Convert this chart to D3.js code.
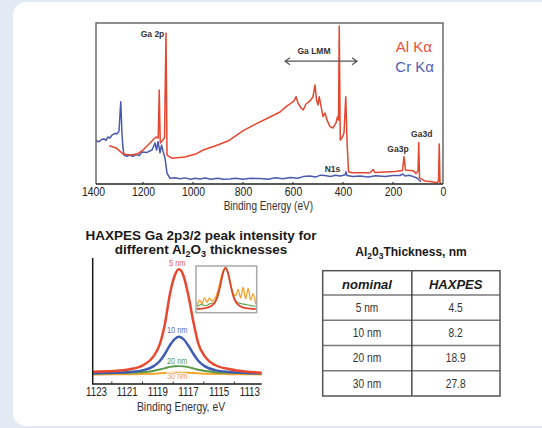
<!DOCTYPE html>
<html>
<head>
<meta charset="utf-8">
<script src="https://cdn.jsdelivr.net/npm/d3@7"></script>
<style>
  html, body { margin: 0; padding: 0; background: #e2eaf4; }
  svg { display: block; }
  text { font-family: "Liberation Sans", Arial, sans-serif; }
  .bold { font-weight: bold; }
</style>
</head>
<body>
<div id="chart"></div>
<script>
// ---- survey spectrum (binding energy eV, intensity a.u.) ----
const alKa = [
  [1335, 23.8], [1308, 22.4], [1279, 18.6], [1252, 18.0], [1224, 18.6], [1200, 21.1],
  [1180, 24.2], [1160, 27.3], [1148, 29.2], [1139, 28.6], [1135, 58.4], [1131, 25.5],
  [1124, 26.7], [1114, 28.6], [1108, 93.8], [1104, 18.0], [1085, 16.0], [1032, 16.8],
  [990, 18.6], [959, 21.1], [912, 23.6], [860, 26.7], [799, 33.1], [748, 37.3],
  [692, 41.6], [652, 44.7], [625, 48.4], [612, 49.7], [596, 51.6], [588, 54.2],
  [580, 50.3], [568, 47.2], [559, 46.0], [548, 49.7], [532, 51.6], [520, 54.2],
  [512, 61.5], [506, 52.2], [500, 49.1], [495, 54.2], [488, 48.4], [480, 41.8],
  [472, 44.1], [464, 39.8], [452, 35.6], [440, 34.8], [428, 37.9], [422, 41.8],
  [418, 39.8], [415, 98.1], [411, 27.3], [404, 28.6], [396, 31.7], [389, 54.2],
  [384, 27.3], [378, 7.6], [364, 7.0], [292, 7.0], [279, 9.0], [272, 7.1],
  [192, 7.8], [162, 8.4], [156, 17.0], [150, 8.7], [120, 8.3], [108, 6.6],
  [100, 8.1], [97, 25.7], [94, 3.7], [72, 1.9], [44, 1.4], [24, 0.8],
  [18, 1.9], [15, 24.8], [12, 0.6], [8, 0.6]
];
const crKa = [
  [1388, 27.3], [1380, 26.2], [1372, 26.7], [1364, 27.8], [1356, 28.0], [1348, 27.1],
  [1340, 29.2], [1332, 28.6], [1324, 30.4], [1312, 31.5], [1304, 31.1], [1296, 32.9],
  [1289, 51.1], [1284, 31.1], [1280, 22.4], [1276, 18.0], [1264, 17.2], [1252, 18.0],
  [1240, 17.1], [1228, 18.3], [1216, 17.6], [1204, 19.9], [1184, 19.6], [1164, 21.1],
  [1152, 25.5], [1146, 21.1], [1140, 26.3], [1132, 19.3], [1126, 24.2], [1120, 20.5],
  [1112, 16.1], [1104, 6.8], [1092, 3.5], [1072, 3.9], [1052, 3.3], [1030, 3.8],
  [1010, 3.0], [990, 3.6], [972, 3.1], [950, 3.7], [930, 2.9], [900, 3.5],
  [880, 3.0], [852, 3.1], [830, 3.6], [800, 2.9], [770, 3.5], [732, 3.4],
  [700, 3.0], [670, 3.9], [640, 3.3], [612, 4.0], [580, 3.6], [560, 4.6],
  [532, 5.0], [510, 4.3], [490, 5.5], [472, 5.3], [450, 4.6], [430, 5.4],
  [412, 5.0], [392, 5.6], [388, 7.6], [384, 5.3], [360, 4.6], [332, 5.0],
  [300, 4.4], [270, 5.1], [232, 4.7], [200, 5.3], [172, 5.3], [160, 6.2],
  [152, 5.0], [135, 5.4], [120, 4.7], [104, 3.7], [96, 2.5], [88, 1.4]
];
const surveyTicks = [1400, 1200, 1000, 800, 600, 400, 200, 0];
const surveyNotes = [
  { text: "Ga 2p", eV: 1162, y: 91.5 },
  { text: "Ga LMM", eV: 516, y: 80.5 },
  { text: "N1s", eV: 442, y: 7.6 },
  { text: "Ga3p", eV: 180, y: 20 },
  { text: "Ga3d", eV: 85, y: 29 }
];

// ---- HAXPES Ga 2p3/2 peaks ----
const peakEnergies = [1123.2, 1121.9, 1120.8, 1119.9, 1119.26, 1118.82, 1118.5, 1118.17, 1117.85,
  1117.59, 1117.31, 1116.98, 1116.65, 1116.33, 1115.89, 1115.24, 1114.26, 1113.17, 1112.2];
const nm5 = [9.8, 10.3, 11.7, 15.1, 21.7, 32.3, 48.1, 71.9, 86.5, 91.0, 86.5, 70.6, 49.5, 32.3, 21.7, 15.1, 11.7, 9.8, 9.0];
const nm10 = [8.5, 8.9, 9.5, 11.0, 14.0, 18.5, 24.0, 31.0, 35.8, 37.5, 35.8, 30.5, 24.0, 18.5, 14.0, 11.0, 9.5, 8.8, 8.5];
const nm20 = [8.4, 8.6, 8.9, 9.5, 10.4, 11.6, 12.6, 13.6, 14.1, 14.3, 14.1, 13.4, 12.4, 11.3, 10.3, 9.4, 8.9, 8.6, 8.5];
const nm30 = [7.6, 7.7, 7.8, 8.0, 8.2, 8.5, 8.7, 8.9, 9.0, 9.0, 9.0, 8.9, 8.7, 8.5, 8.2, 8.0, 7.8, 7.7, 7.6];
const peakLabels = ["5 nm", "10 nm", "20 nm", "30 nm"];
const peakLabelY = [94, 40.5, 16, 4];
const peakTickLabels = [1123, 1121, 1119, 1117, 1115, 1113];
const peakMinorTicks = [1122, 1120, 1118, 1116, 1114];

// inset: normalised peaks
const insetRed = [[1121, 0.04], [1120, 0.06], [1119.2, 0.12], [1118.6, 0.3], [1118.2, 0.6], [1117.9, 0.88],
  [1117.6, 1.0], [1117.3, 0.88], [1117.0, 0.6], [1116.6, 0.3], [1116.0, 0.12], [1115.2, 0.06], [1114, 0.04]];
const insetGreen = [[1121, 0.1], [1120.5, 0.14], [1120, 0.12], [1119.5, 0.16], [1119, 0.18], [1118.6, 0.32],
  [1118.2, 0.62], [1117.9, 0.9], [1117.6, 1.0], [1117.3, 0.88], [1117.0, 0.62], [1116.6, 0.32],
  [1116.2, 0.2], [1115.6, 0.16], [1115, 0.14], [1114.5, 0.12], [1114, 0.1]];
const insetOrange = [[1121, 0.12], [1120.7, 0.25], [1120.4, 0.16], [1120.1, 0.3], [1119.8, 0.2],
  [1119.5, 0.3], [1119.2, 0.22], [1118.9, 0.28], [1118.7, 0.35],
  [1118.4, 0.55], [1118.1, 0.8], [1117.8, 0.97], [1117.6, 1.0], [1117.3, 0.9], [1117, 0.65],
  [1116.7, 0.4], [1116.4, 0.35], [1116.1, 0.5], [1115.8, 0.3], [1115.5, 0.55], [1115.2, 0.28],
  [1114.9, 0.52], [1114.6, 0.25], [1114.3, 0.4], [1114, 0.15]];

// ---- table ----
const nominal = ["5 nm", "10 nm", "20 nm", "30 nm"];
const haxpes = ["4.5", "8.2", "18.9", "27.8"];

const W = 542, H = 428;
const RED = "#e5462f", BLUE = "#4a5aae";
const SQ = 0.8; // horizontal squeeze for the condensed captions

// condensed text is drawn at (x,y) with a horizontal squeeze
const squeezeAt = (x, y, sx = SQ) => `translate(${x},${y}) scale(${sx},1)`;

const svg = d3.select("#chart").append("svg").attr("width", W).attr("height", H);

svg.append("rect").attr("width", W).attr("height", H).attr("fill", "#e2eaf4");
svg.append("rect")
  .attr("x", 13).attr("y", 2).attr("width", W + 20).attr("height", 424)
  .attr("rx", 13).attr("fill", "#ffffff");

/* ===== top: survey spectrum ===== */
const fx = { left: 96, right: 443, top: 23, bottom: 184 };
const x1 = d3.scaleLinear().domain([1400, 0]).range([93, 443]);
const y1 = d3.scaleLinear().domain([0, 100]).range([fx.bottom, fx.top]);

svg.append("clipPath").attr("id", "clipTop")
  .append("rect")
  .attr("x", fx.left).attr("y", fx.top - 2)
  .attr("width", fx.right - fx.left).attr("height", fx.bottom - fx.top + 2);

const surveyG = svg.append("g");
const line1 = d3.line().x(d => x1(d[0])).y(d => y1(d[1]));

surveyG.append("path").datum(crKa)
  .attr("clip-path", "url(#clipTop)")
  .attr("d", line1).attr("fill", "none")
  .attr("stroke", BLUE).attr("stroke-width", 1.5).attr("stroke-linejoin", "round");
surveyG.append("path").datum(alKa)
  .attr("clip-path", "url(#clipTop)")
  .attr("d", line1).attr("fill", "none")
  .attr("stroke", RED).attr("stroke-width", 1.5).attr("stroke-linejoin", "round");

// frame
surveyG.append("path")
  .attr("d", `M${fx.left},${fx.bottom}V${fx.top}H${fx.right}V${fx.bottom}`)
  .attr("fill", "none").attr("stroke", "#6b6b6b").attr("stroke-width", 1.5);
surveyG.append("line")
  .attr("x1", fx.left).attr("x2", fx.right)
  .attr("y1", fx.bottom).attr("y2", fx.bottom)
  .attr("stroke", "#222").attr("stroke-width", 1.5);

const axTop = surveyG.append("g")
  .attr("transform", `translate(0,${fx.bottom})`)
  .call(d3.axisBottom(x1).tickValues(surveyTicks).tickSize(0).tickPadding(3).tickFormat(d3.format("d")));
axTop.select(".domain").remove();
axTop.selectAll("text")
  .attr("transform", `scale(${SQ},1)`)
  .style("font-family", "Liberation Sans, Arial, sans-serif")
  .style("font-size", "13px").attr("fill", "#222");
surveyG.selectAll(".minorTop")
  .data(surveyTicks.slice(1, -1))
  .join("line")
  .attr("x1", d => x1(d)).attr("x2", d => x1(d))
  .attr("y1", fx.bottom).attr("y2", fx.bottom - 2)
  .attr("stroke", "#222");

surveyG.append("text")
  .attr("transform", squeezeAt(268.3, 209.5))
  .attr("text-anchor", "middle")
  .style("font-size", "12.5px").attr("fill", "#333")
  .text("Binding Energy (eV)");

// peak annotations
surveyG.selectAll(".note")
  .data(surveyNotes)
  .join("text")
  .attr("class", "bold")
  .attr("x", d => x1(d.eV)).attr("y", d => y1(d.y))
  .attr("text-anchor", "middle")
  .style("font-size", "8.5px")
  .attr("fill", "#333")
  .attr("stroke", "#fff").attr("stroke-width", 2).attr("paint-order", "stroke")
  .text(d => d.text);

// Ga LMM arrow
const arrowY = y1(76.3);
const ax0 = x1(632), ax1 = x1(344);
surveyG.append("path")
  .attr("d", `M${ax0},${arrowY}H${ax1}M${ax0 + 5},${arrowY - 3.5}L${ax0},${arrowY}L${ax0 + 5},${arrowY + 3.5}` +
    `M${ax1 - 5},${arrowY - 3.5}L${ax1},${arrowY}L${ax1 - 5},${arrowY + 3.5}`)
  .attr("fill", "none").attr("stroke", "#555").attr("stroke-width", 1.2);

// legend
surveyG.append("text")
  .attr("x", 432).attr("y", 51.7)
  .attr("text-anchor", "end")
  .style("font-size", "15px")
  .attr("fill", "#e8523a")
  .text("Al Kα");
surveyG.append("text")
  .attr("x", 434).attr("y", 71.7)
  .attr("text-anchor", "end")
  .style("font-size", "15px")
  .attr("fill", "#5160b3")
  .text("Cr Kα");

/* ===== bottom-left: HAXPES peaks ===== */
const title = svg.append("text")
  .attr("class", "bold")
  .attr("text-anchor", "middle")
  .style("font-size", "13.5px").attr("fill", "#1a1a1a");
title.append("tspan").attr("x", 201).attr("y", 240).text("HAXPES Ga 2p3/2 peak intensity for");
const t2 = title.append("tspan").attr("x", 201).attr("y", 254);
t2.append("tspan").text("different Al");
t2.append("tspan").attr("dy", 3).style("font-size", "9px").text("2");
t2.append("tspan").attr("dy", -3).text("O");
t2.append("tspan").attr("dy", 3).style("font-size", "9px").text("3");
t2.append("tspan").attr("dy", -3).text(" thicknesses");

const x2 = d3.scaleLinear().domain([1123, 1113]).range([96, 249.3]);
const y2 = d3.scaleLinear().domain([0, 100]).range([384, 258]);
const bl = { left: 92.7, right: 261.7, top: 258, bottom: 384 };

const peaks = svg.append("g");
const line2 = d3.line().x(d => x2(d[0])).y(d => y2(d[1])).curve(d3.curveMonotoneX);
const series = [
  { vals: nm30, color: "#f2a52a", w: 2 },
  { vals: nm20, color: "#5b9a4a", w: 2 },
  { vals: nm10, color: "#3f5cb2", w: 2.5 },
  { vals: nm5, color: "#e8482f", w: 2.5 }
];
series.forEach(s => {
  peaks.append("path")
    .datum(peakEnergies.map((e, i) => [e, s.vals[i]]))
    .attr("d", line2).attr("fill", "none")
    .attr("stroke", s.color).attr("stroke-width", s.w);
});

const labelColors = ["#e8604a", "#5a6fc0", "#5b9a4a", "#f0a030"];
peaks.selectAll(".plab")
  .data(peakLabels)
  .join("text")
  .attr("transform", (d, i) => squeezeAt(x2(1117.7), y2(peakLabelY[i]), 0.78))
  .attr("text-anchor", "middle")
  .style("font-size", "9.5px")
  .attr("fill", (d, i) => labelColors[i])
  .attr("stroke", "rgba(255,255,255,0.85)").attr("stroke-width", 2.5).attr("paint-order", "stroke")
  .text(d => d);

// axes
peaks.append("path")
  .attr("d", `M${bl.left},${bl.top}V${bl.bottom}H${bl.right}`)
  .attr("fill", "none").attr("stroke", "#1a1a1a").attr("stroke-width", 1.5);
const axB = peaks.append("g")
  .attr("transform", `translate(0,${bl.bottom})`)
  .call(d3.axisBottom(x2).tickValues(peakTickLabels).tickSize(0).tickPadding(2.5).tickFormat(d3.format("d")));
axB.select(".domain").remove();
axB.selectAll("text")
  .attr("transform", "scale(0.75,1)")
  .style("font-family", "Liberation Sans, Arial, sans-serif")
  .style("font-size", "13px").attr("fill", "#222");
const axBm = peaks.append("g")
  .attr("transform", `translate(0,${bl.bottom})`)
  .call(d3.axisTop(x2).tickValues(peakMinorTicks).tickSize(2.5).tickFormat(""));
axBm.select(".domain").remove();
axBm.selectAll("line").attr("stroke", "#333");

peaks.append("text")
  .attr("transform", squeezeAt(181, 410.5))
  .attr("text-anchor", "middle")
  .style("font-size", "13px").attr("fill", "#333")
  .text("Binding Energy, eV");

// inset
const ib = { left: 196, right: 256.7, top: 266, bottom: 312.7 };
const xi = d3.scaleLinear().domain([1121, 1114]).range([ib.left + 1, ib.right - 1]);
const yi = d3.scaleLinear().domain([0, 1]).range([ib.bottom - 2, ib.top + 2]);
const inset = svg.append("g");
inset.append("rect")
  .attr("x", ib.left).attr("y", ib.top)
  .attr("width", ib.right - ib.left).attr("height", ib.bottom - ib.top)
  .attr("fill", "#fff").attr("stroke", "#a8a8a8").attr("stroke-width", 1.5);
const lineI = d3.line().x(d => xi(d[0])).y(d => yi(d[1])).curve(d3.curveMonotoneX);
[[insetOrange, "#f2a02a", 1.3], [insetGreen, "#6aa352", 1.2], [insetRed, "#e2452e", 1.8]].forEach(([data, c, w]) => {
  inset.append("path").datum(data)
    .attr("d", lineI).attr("fill", "none")
    .attr("stroke", c).attr("stroke-width", w);
});

/* ===== bottom-right: thickness table ===== */
const tt = svg.append("text")
  .attr("class", "bold")
  .attr("x", 411).attr("y", 256)
  .attr("text-anchor", "middle")
  .style("font-size", "12px").attr("fill", "#1a1a1a");
tt.append("tspan").text("Al");
tt.append("tspan").attr("dy", 2.5).style("font-size", "8.5px").text("2");
tt.append("tspan").attr("dy", -2.5).text("0");
tt.append("tspan").attr("dy", 2.5).style("font-size", "8.5px").text("3");
tt.append("tspan").attr("dy", -2.5).text("Thickness, nm");

const tb = { left: 322.7, right: 500, top: 270.7, head: 295, bottom: 396 };
const cols = d3.scaleBand().domain(["nominal", "HAXPES"]).range([tb.left, tb.right]).paddingInner(0);
const rows = d3.scaleBand().domain(nominal).range([tb.head, tb.bottom]);
const table = svg.append("g");

table.selectAll(".rowline")
  .data(nominal)
  .join("line")
  .attr("x1", tb.left).attr("x2", tb.right)
  .attr("y1", d => rows(d)).attr("y2", d => rows(d))
  .attr("stroke", "#7a7a7a").attr("stroke-width", 1.5);
table.append("line")
  .attr("x1", cols("HAXPES") + 0.5).attr("x2", cols("HAXPES") + 0.5)
  .attr("y1", tb.top).attr("y2", tb.bottom)
  .attr("stroke", "#333").attr("stroke-width", 1.3);
table.append("rect")
  .attr("x", tb.left).attr("y", tb.top)
  .attr("width", tb.right - tb.left).attr("height", tb.bottom - tb.top)
  .attr("fill", "none").attr("stroke", "#555").attr("stroke-width", 1.5);

table.selectAll(".head")
  .data(cols.domain())
  .join("text")
  .attr("x", d => cols(d) + cols.bandwidth() / 2)
  .attr("y", 288.5)
  .attr("text-anchor", "middle")
  .style("font-weight", "bold").style("font-style", "italic").style("font-size", "13px")
  .attr("fill", "#1a1a1a")
  .text(d => d);

table.selectAll(".nom")
  .data(nominal)
  .join("text")
  .attr("transform", d => squeezeAt(cols("nominal") + cols.bandwidth() / 2, rows(d) + rows.bandwidth() / 2 + 4.3, 0.85))
  .attr("text-anchor", "middle")
  .style("font-size", "12px").attr("fill", "#333")
  .text(d => d);
table.selectAll(".hax")
  .data(haxpes)
  .join("text")
  .attr("transform", (d, i) => squeezeAt(cols("HAXPES") + cols.bandwidth() / 2, rows(nominal[i]) + rows.bandwidth() / 2 + 4.3, 0.85))
  .attr("text-anchor", "middle")
  .style("font-size", "12px").attr("fill", "#333")
  .text(d => d);
</script>
</body>
</html>
